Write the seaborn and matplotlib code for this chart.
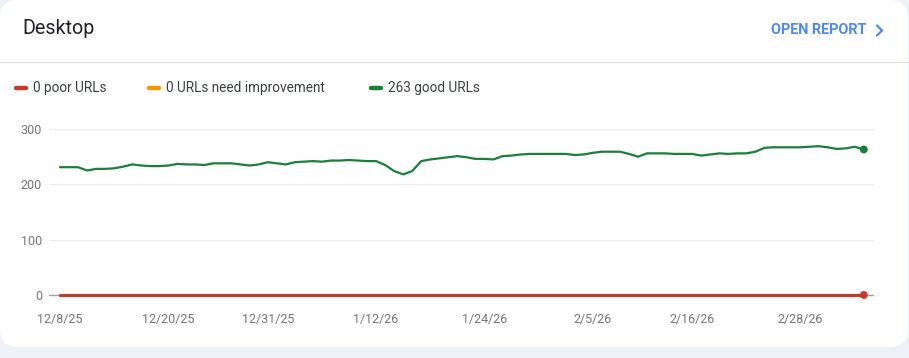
import pandas as pd
import numpy as np
import matplotlib.pyplot as plt
from matplotlib.patches import FancyBboxPatch
from matplotlib.lines import Line2D
from matplotlib.transforms import IdentityTransform
import seaborn as sns

# daily counts, 12/8/25 -> 3/7/26
dates = pd.date_range("2025-12-08", "2026-03-07", freq="D")
good_urls = [231, 231, 231, 225, 228, 228, 229, 232, 236, 234,
             233, 233, 234, 237, 236, 236, 235, 238, 238, 238,
             236, 234, 236, 240, 238, 236, 240, 241, 242, 241,
             243, 243, 244, 243, 242, 242, 235, 224, 218, 224,
             242, 245, 247, 249, 251, 249, 246, 246, 245, 251,
             252, 254, 255, 255, 255, 255, 255, 253, 254, 257,
             259, 259, 259, 255, 250, 256, 256, 256, 255, 255,
             255, 252, 254, 256, 255, 256, 256, 259, 266, 267,
             267, 267, 267, 268, 269, 267, 264, 265, 268, 263]
need_improvement = [0] * 90
poor_urls = [0] * 90

tick_dates = ["2025-12-08", "2025-12-20", "2025-12-31", "2026-01-12",
              "2026-01-24", "2026-02-05", "2026-02-16", "2026-02-28"]
tick_labels = ["12/8/25", "12/20/25", "12/31/25", "1/12/26",
               "1/24/26", "2/5/26", "2/16/26", "2/28/26"]
y_ticks = [0, 100, 200, 300]

df = pd.DataFrame({"date": dates, "poor": poor_urls,
                   "need": need_improvement, "good": good_urls})

RED, ORANGE, GREEN = "#c8392a", "#f29900", "#188038"

sns.set_style("white")
plt.rcParams["font.family"] = ["Roboto", "DejaVu Sans"]

W, H = 909, 358
fig = plt.figure(figsize=(W / 100, H / 100), dpi=100)
fig.patch.set_facecolor("#eef2f8")

# white card
card = FancyBboxPatch((0, H - 347), 908, 347,
                      boxstyle="round,pad=0,rounding_size=18",
                      transform=IdentityTransform(),
                      facecolor="white", edgecolor="none", zorder=0)
fig.add_artist(card)
fig.add_artist(Line2D([0, W], [H - 62, H - 62], transform=IdentityTransform(),
                      color="#dadce0", lw=0.8))

# header
fig.text(22 / W, 1 - 28 / H, "Desktop", fontsize=14.2, color="#202124", va="center")
fig.text(866 / W, 1 - 30.5 / H, "OPEN REPORT", fontsize=10.4, fontweight="bold",
         color="#4d8af0", ha="right", va="center")
fig.add_artist(Line2D([877, 882, 877], [H - 25.5, H - 30.5, H - 35.5],
                      transform=IdentityTransform(), color="#4d8af0", lw=1.6,
                      solid_capstyle="round", solid_joinstyle="miter"))

# legend
legend_items = [(f"{poor_urls[-1]} poor URLs", RED, 16),
                (f"{need_improvement[-1]} URLs need improvement", ORANGE, 149),
                (f"{good_urls[-1]} good URLs", GREEN, 371)]
for label, color, x0 in legend_items:
    fig.add_artist(Line2D([x0, x0 + 10], [H - 87.5, H - 87.5], transform=IdentityTransform(),
                          color=color, lw=3.2, solid_capstyle="round"))
    fig.text((x0 + 17) / W, 1 - 88 / H, label, fontsize=9.8, color="#3c4043", va="center")

# chart
ax = fig.add_axes([49 / W, 1 - 300.5 / H, (874 - 49) / W, (300.5 - 123.5) / H])
ax.patch.set_alpha(0)

sns.lineplot(data=df, x="date", y="good", color=GREEN, lw=1.6, ax=ax, zorder=4)
sns.lineplot(data=df, x="date", y="need", color=ORANGE, lw=2.2, ax=ax, zorder=4, clip_on=False)
sns.lineplot(data=df, x="date", y="poor", color=RED, lw=2.2, ax=ax, zorder=5, clip_on=False)
last = df.tail(1)
sns.scatterplot(data=last, x="date", y="good", color=GREEN, s=32, edgecolor="none",
                ax=ax, zorder=6, clip_on=False)
sns.scatterplot(data=last, x="date", y="poor", color=RED, s=32, edgecolor="none",
                ax=ax, zorder=6, clip_on=False)

px_day = (863.8 - 60) / 89
ax.set_xlim(dates[0] - pd.Timedelta(days=11 / px_day),
            dates[-1] + pd.Timedelta(days=(874 - 863.8) / px_day))
ax.set_ylim(-10, 310)

ax.set_yticks(y_ticks)
ax.set_xticks(pd.to_datetime(tick_dates))
ax.set_xticklabels(tick_labels)
ax.grid(axis="y", color="#e8eaed", lw=0.8)
ax.axhline(0, color="#9aa0a6", lw=1.0, zorder=3)
ax.set_xlabel("")
ax.set_ylabel("")
for s in ax.spines.values():
    s.set_visible(False)
ax.tick_params(axis="both", length=0, labelsize=9, labelcolor="#757575")
ax.tick_params(axis="y", pad=5)
ax.tick_params(axis="x", pad=9)

fig.savefig("out.png", dpi=100, facecolor=fig.get_facecolor())
